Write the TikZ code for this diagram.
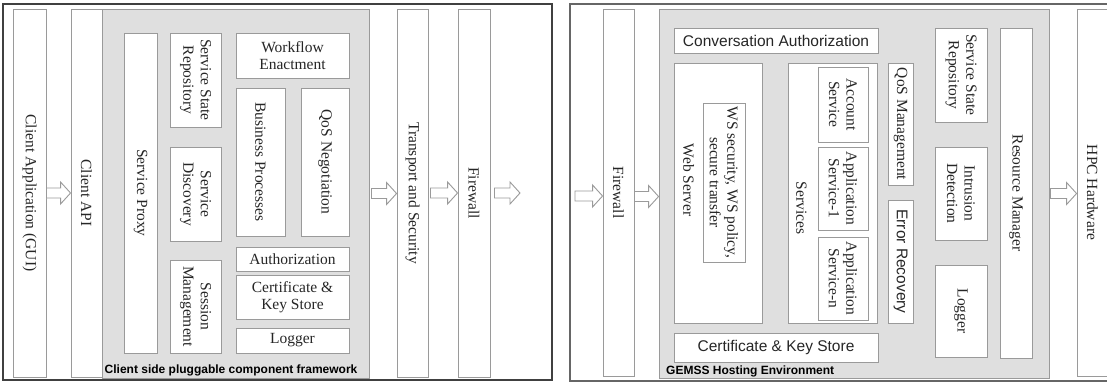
\documentclass[tikz,border=0pt]{standalone}
\usepackage{fontspec}
\setmainfont{Liberation Serif}
\setsansfont{Liberation Sans}
\usetikzlibrary{calc}
\definecolor{linegray}{HTML}{9A9A9A}
\definecolor{panelgray}{HTML}{DFDFDF}
\definecolor{textgray}{HTML}{262626}
\newcommand{\boxfont}{\fontsize{15.5}{17.5}\selectfont}
\newcommand{\tagfont}{\sffamily\bfseries\fontsize{12}{14}\selectfont}
\tikzstyle{block} = [rectangle, draw=linegray, fill=white, line width=0.9pt,
    inner sep=0pt, align=center, text=textgray, font=\boxfont]
\tikzstyle{vblock} = [block, rotate=-90]
\tikzstyle{sblock} = [block, font=\sffamily\boxfont]
\tikzstyle{vsblock} = [sblock, rotate=-90]
\tikzstyle{vtext} = [inner sep=0pt, rotate=-90, text=textgray, font=\boxfont]
\tikzstyle{panel} = [rectangle, draw=linegray, fill=panelgray, line width=0.9pt, inner sep=0pt]
\tikzstyle{tag} = [anchor=west, inner sep=0pt, text=black, font=\tagfont]
\tikzstyle{frame} = [draw=black!75, line width=1.1pt]
\tikzstyle{hollow} = [draw=linegray, fill=white, line width=0.9pt,
    to path={let \p1=(\tikztostart), \p2=(\tikztotarget) in
      (\x1,\y1+5) -- (\x2-10,\y1+5) -- (\x2-10,\y1+11) -- (\x2,\y1)
      -- (\x2-10,\y1-11) -- (\x2-10,\y1-5) -- (\x1,\y1-5) -- cycle}]

\begin{document}
\begin{tikzpicture}[x=1pt, y=-1pt]
   \useasboundingbox (0,0) rectangle (1107,383);
   \fill[white] (0,0) rectangle (1107,383);

   % client side (rotated boxes: north is the right side, south the left side)
   \draw[frame] (3,4) rectangle (552,380);
   \node [vblock, minimum width=368, minimum height=33] (gui) at (29.5,193)
      {Client Application (GUI)};
   \node [panel, minimum width=267, minimum height=369] (fw) at (235.5,193.5) {};
   \node [vblock, minimum width=368, minimum height=31] (capi) at (86.5,193) {Client API};
   \node [vblock, minimum width=320, minimum height=33] (proxy) at (140.5,193) {Service Proxy};
   \node [vblock, minimum width=94, minimum height=51] (ssr) at (195.5,80)
      {Service State\\Repository};
   \node [vblock, minimum width=94, minimum height=51] (disc) at (195.5,194)
      {Service\\Discovery};
   \node [vblock, minimum width=93, minimum height=51] (sess) at (195.5,306.5)
      {Session\\Management};
   \node [block, minimum width=113, minimum height=45] (wf) at (292.5,55.5)
      {Workflow\\Enactment};
   \node [vblock, minimum width=148, minimum height=49] (bp) at (260.5,162) {Business Processes};
   \node [vblock, minimum width=148, minimum height=48] (qos) at (325,162) {QoS Negotiation};
   \node [block, minimum width=113, minimum height=24] (auth) at (292.5,259) {Authorization};
   \node [block, minimum width=113, minimum height=44] (cert) at (292.5,297)
      {Certificate \&\\Key Store};
   \node [block, minimum width=113, minimum height=25] (log) at (292.5,340.5) {Logger};
   \node [tag] (fwtag) at (104.5,370.5) {Client side pluggable component framework};
   \node [vblock, minimum width=368, minimum height=31] (trans) at (412.5,193)
      {Transport and Security};
   \node [vblock, minimum width=368, minimum height=32] (fwl) at (474,193) {Firewall};
   \coordinate (outl) at (520,192);

   \draw [hollow] (gui.north) to (capi.south);
   \draw [hollow] ([xshift=2pt]fw.east) to (trans.south);
   \draw [hollow] ([xshift=2pt]trans.north) to (fwl.south);
   \draw [hollow] ([xshift=4pt]fwl.north) to (outl);

   % hosting side
   \draw[frame, draw=black!60] (1112,4) -- (570,4) -- (570,381) -- (1112,381);
   \coordinate (inr) at (575,196);
   \node [vblock, minimum width=367, minimum height=31] (fwr) at (618.5,192.5) {Firewall};
   \node [panel, minimum width=390, minimum height=369] (gemss) at (854,193.5) {};
   \node [sblock, minimum width=204, minimum height=25] (conv) at (776,40.5)
      {Conversation Authorization};
   \node [vblock, minimum width=260, minimum height=88] (web) at (718,193) {};
   \node [vtext] (webtxt) at (688.5,180) {Web Server};
   \node [vblock, minimum width=159, minimum height=42] (wss) at (724,182.5)
      {WS security, WS policy,\\secure transfer};
   \node [vblock, minimum width=260, minimum height=89] (svc) at (832.5,193) {};
   \node [vtext] (svctxt) at (801.5,208) {Services};
   \node [vblock, minimum width=75, minimum height=50] (acc) at (843,104.5)
      {Account\\Service};
   \node [vblock, minimum width=83, minimum height=50] (app1) at (843,188.5)
      {Application\\Service-1};
   \node [vblock, minimum width=83, minimum height=50] (appn) at (843,278.5)
      {Application\\Service-n};
   \node [sblock, minimum width=204, minimum height=29] (certr) at (776,347.5)
      {Certificate \& Key Store};
   \node [tag] (gemsstag) at (666,371) {GEMSS Hosting Environment};
   \node [vblock, minimum width=122, minimum height=25] (qosm) at (900.5,124) {QoS Management};
   \node [vsblock, minimum width=123, minimum height=25] (err) at (900.5,261.5) {Error Recovery};
   \node [vblock, minimum width=94, minimum height=52] (ssrr) at (961,75)
      {Service State\\Repository};
   \node [vblock, minimum width=93, minimum height=52] (intr) at (961,193.5)
      {Intrusion\\Detection};
   \node [vblock, minimum width=92, minimum height=52] (logr) at (961,311) {Logger};
   \node [vblock, minimum width=330, minimum height=32] (res) at (1016,193) {Resource Manager};
   \node [vblock, minimum width=367, minimum height=31] (hpc) at (1092.5,192.5) {HPC Hardware};

   \draw [hollow] (inr) to (fwr.south);
   \draw [hollow] ([yshift=-4pt]fwr.north) to (gemss.west);
   \draw [hollow] ([xshift=1pt]gemss.east) to (hpc.south);
\end{tikzpicture}
\end{document}
